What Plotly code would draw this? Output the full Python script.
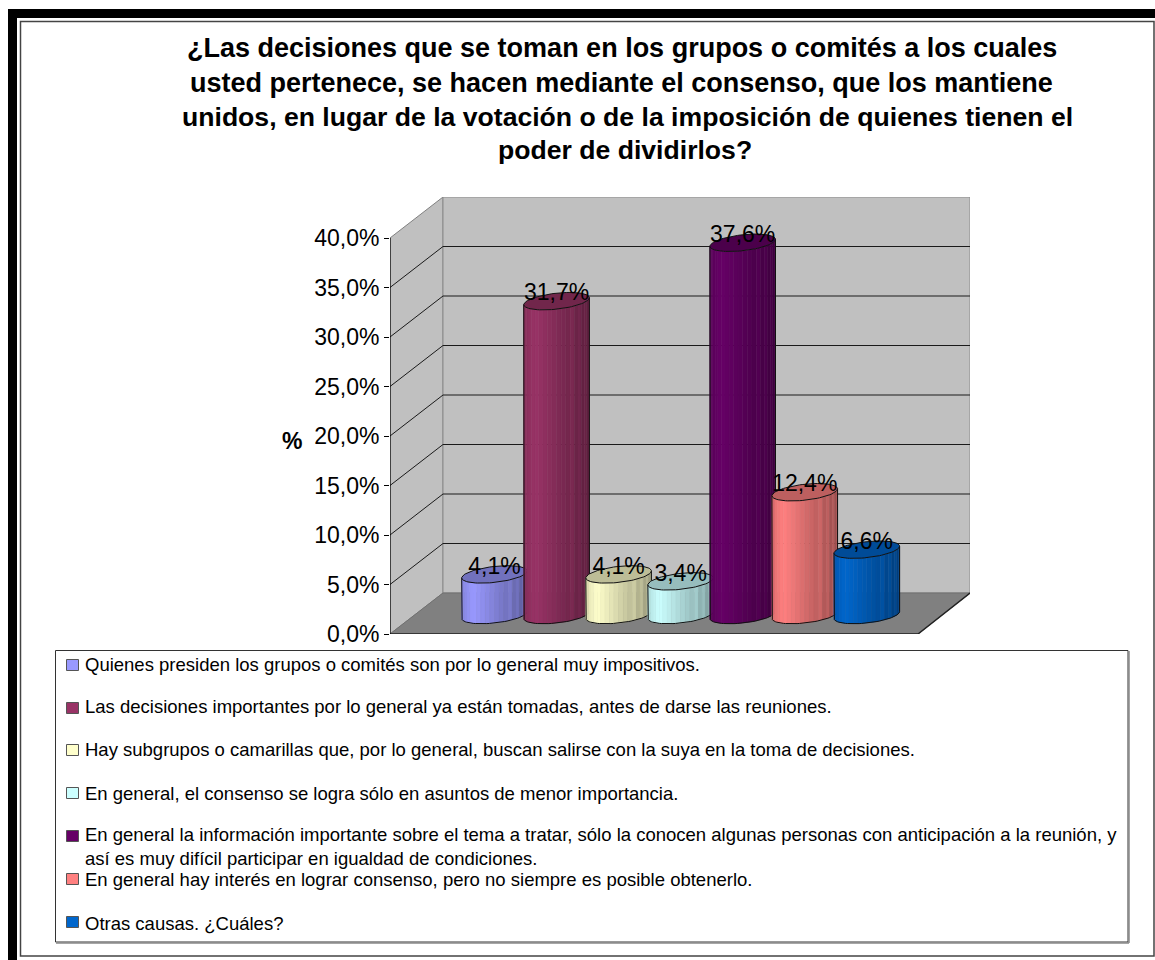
import math
import plotly.graph_objects as go

# Survey results
LEGEND_LABELS = [
    "Quienes presiden los grupos o comités son por lo general muy impositivos.",
    "Las decisiones importantes por lo general ya están tomadas, antes de darse las reuniones.",
    "Hay subgrupos o camarillas que, por lo general, buscan salirse con la suya en la toma de decisiones.",
    "En general, el consenso se logra sólo en asuntos de menor importancia.",
    "En general la información importante sobre el tema a tratar, sólo la conocen algunas personas con anticipación a la reunión, y<br>así es muy difícil participar en igualdad de condiciones.",
    "En general hay interés en lograr consenso, pero no siempre es posible obtenerlo.",
    "Otras causas. ¿Cuáles?",
]
VALUES = [4.1, 31.7, 4.1, 3.4, 37.6, 12.4, 6.6]
COLORS = ["#9999FF", "#993366", "#FFFFCC", "#CCFFFF", "#660066", "#FF8080", "#0066CC"]
TICKS = [0, 5, 10, 15, 20, 25, 30, 35, 40]
TICK_LABELS = ["0,0%", "5,0%", "10,0%", "15,0%", "20,0%", "25,0%", "30,0%", "35,0%", "40,0%"]
TITLE_LINES = [
    "¿Las decisiones que se toman en los grupos o comités a los cuales",
    "usted pertenece, se hacen mediante el consenso, que los mantiene",
    "unidos, en lugar de la votación o de la imposición de quienes tienen el",
    "poder de dividirlos?",
]

W, H = 1155, 960
FONT = "Liberation Sans"

# Plot box on the page, and the data scale inside it
BOX_L, BOX_R, BOX_T, BOX_B = 390, 970, 197, 634
PX_PER_PCT = 9.9
PX_PER_CAT = 62.05
CAT0_PX = 494.5

X_RANGE = [(BOX_L - CAT0_PX) / PX_PER_CAT, (BOX_R - CAT0_PX) / PX_PER_CAT]
Y_RANGE = [0, (BOX_B - BOX_T) / PX_PER_PCT]

# Oblique projection of the chart's depth, in axis units
DEPTH_X = 53 / PX_PER_CAT
DEPTH_Y = 41 / PX_PER_PCT
FLOOR_R = (918 - CAT0_PX) / PX_PER_CAT

# Cylinder shape, in axis units
RX = 32.8 / PX_PER_CAT
RY = 8 / PX_PER_PCT
SHEAR = 3.5 / PX_PER_PCT
BASE = 19 / PX_PER_PCT
N_FACETS = 22
LABEL_DROP = 5 / PX_PER_PCT


def fx(px):
    return px / W


def fy(py):
    return 1 - py / H


def shade(hex_color, f):
    r, g, b = (int(hex_color[i:i + 2], 16) for i in (1, 3, 5))
    return f"rgb({min(255, round(r * f))},{min(255, round(g * f))},{min(255, round(b * f))})"


def lower(cy, u):
    return cy + SHEAR * u - RY * math.sqrt(max(0, 1 - u * u))


def upper(cy, u):
    return cy + SHEAR * u + RY * math.sqrt(max(0, 1 - u * u))


def facet_factor(u, i):
    # Lit from the left: brightest a quarter of the way across, darkening to the right
    f = 1.0 - 0.13 * abs(u + 0.65) / 0.35 if u < -0.65 else 1.0 - 0.40 * (u + 0.65) / 1.65
    if u > 0.35 and i % 2 == 0:
        f += 0.07
    return f


shapes = []


def poly(points, fill=None, line=None, width=1, layer="below"):
    path = "M" + " L".join(f"{x},{y}" for x, y in points) + (" Z" if fill else "")
    shapes.append(dict(type="path", path=path, xref="x", yref="y", layer=layer,
                       fillcolor=fill or "rgba(0,0,0,0)",
                       line=dict(color=line or "rgba(0,0,0,0)", width=width)))


x0, x1 = X_RANGE
top = TICKS[-1]

# Side wall, back wall and floor
poly([(x0, 0), (x0 + DEPTH_X, DEPTH_Y), (x0 + DEPTH_X, top + DEPTH_Y), (x0, top)], "#C0C0C0", "#808080")
poly([(x0 + DEPTH_X, DEPTH_Y), (x1, DEPTH_Y), (x1, top + DEPTH_Y), (x0 + DEPTH_X, top + DEPTH_Y)], "#C0C0C0", "#8C8C8C")
poly([(x0, 0), (FLOOR_R, 0), (x1, DEPTH_Y), (x0 + DEPTH_X, DEPTH_Y)], "#808080", "#707070")

# Gridlines across both walls; the top of the walls keeps its grey edge
for t in TICKS[1:-1]:
    poly([(x0, t), (x0 + DEPTH_X, t + DEPTH_Y), (x1, t + DEPTH_Y)], None, "#1a1a1a", 1)

# Front edges of the floor and the value axis line
poly([(x0, 0), (FLOOR_R, 0), (x1, DEPTH_Y)], None, "#222222", 1.5)
poly([(x0, 0), (x0, top)], None, "#000000", 1.2)

fig = go.Figure()

# Each cylinder: shaded facets, then its outline and lid
for i, (v, color) in enumerate(zip(VALUES, COLORS)):
    bottom_c, top_c = BASE, BASE + v
    us = [-math.cos(math.pi * k / N_FACETS) for k in range(N_FACETS + 1)]
    for k in range(N_FACETS):
        a, b = us[k], us[k + 1]
        mid = (a + b) / 2
        steps = [a + (b - a) * s / 3 for s in range(4)]
        xs = [i + RX * u for u in steps] + [i + RX * u for u in reversed(steps)]
        ys = [lower(bottom_c, u) for u in steps] + [lower(top_c, u) for u in reversed(steps)]
        fc = shade(color, facet_factor(mid, k))
        fig.add_trace(go.Scatter(x=xs + xs[:1], y=ys + ys[:1], mode="lines", fill="toself",
                                 fillcolor=fc, line=dict(color=fc, width=0.5),
                                 hoverinfo="skip", showlegend=False))

    arc = [-math.cos(math.pi * k / 40) for k in range(41)]
    ox = [i - RX] + [i + RX * u for u in arc] + [i + RX]
    oy = [lower(top_c, -1)] + [lower(bottom_c, u) for u in arc] + [lower(top_c, 1)]
    fig.add_trace(go.Scatter(x=ox, y=oy, mode="lines", line=dict(color="#111111", width=1),
                             hoverinfo="skip", showlegend=False))

    lx = [i + RX * u for u in arc] + [i + RX * u for u in reversed(arc)] + [i - RX]
    ly = [lower(top_c, u) for u in arc] + [upper(top_c, u) for u in reversed(arc)] + [lower(top_c, -1)]
    fig.add_trace(go.Scatter(x=lx, y=ly, mode="lines", fill="toself", fillcolor=shade(color, 0.74),
                             line=dict(color="#111111", width=1), hoverinfo="skip", showlegend=False))

# Value labels sitting on the lids
fig.add_trace(go.Scatter(
    x=list(range(len(VALUES))),
    y=[BASE + v - LABEL_DROP for v in VALUES],
    mode="text",
    text=[f"{v:.1f}".replace(".", ",") + "%" for v in VALUES],
    textposition="top center",
    textfont=dict(family=FONT, size=23, color="#000000"),
    hoverinfo="skip", showlegend=False,
))

annotations = []

# Title, one annotation per line
TITLE_X = [622, 621, 627, 625]
TITLE_Y = [48, 83, 117, 150]
TITLE_SIZE = [27, 27, 26.6, 26.6]
for line, x, y, size in zip(TITLE_LINES, TITLE_X, TITLE_Y, TITLE_SIZE):
    annotations.append(dict(text=f"<b>{line}</b>", x=fx(x), y=fy(y), xref="paper", yref="paper",
                            xanchor="center", yanchor="middle", showarrow=False,
                            font=dict(family=FONT, size=size, color="#000000")))

annotations.append(dict(text="<b>%</b>", x=fx(292), y=fy(441), xref="paper", yref="paper",
                        xanchor="center", yanchor="middle", showarrow=False,
                        font=dict(family=FONT, size=23, color="#000000")))


def rect(l, t, r, b, fill=None, line=None, width=1, layer="above"):
    shapes.append(dict(type="rect", xref="paper", yref="paper", layer=layer,
                       x0=fx(l), x1=fx(r), y0=fy(b), y1=fy(t),
                       fillcolor=fill or "rgba(0,0,0,0)",
                       line=dict(color=line or "rgba(0,0,0,0)", width=width)))


# Page frame
rect(8, 9, 1155, 18, "#000000")
rect(8, 9, 17, 960, "#000000")
rect(20.5, 21.5, 1154, 956, None, "#444444", 1.5)

# Legend box, markers and entries
rect(55.5, 650.5, 1128, 942, None, "#333333", 1)
shapes.append(dict(type="line", xref="paper", yref="paper", x0=fx(56), x1=fx(1129), y0=fy(943), y1=fy(943),
                   line=dict(color="#888888", width=1.5)))
shapes.append(dict(type="line", xref="paper", yref="paper", x0=fx(1129), x1=fx(1129), y0=fy(943), y1=fy(651),
                   line=dict(color="#888888", width=1.5)))
LEGEND_Y = [664, 706, 749, 793, 846.5, 879, 923]
MARKER_Y = [665, 708, 750, 793, 836, 879, 922]
for label, color, y, my in zip(LEGEND_LABELS, COLORS, LEGEND_Y, MARKER_Y):
    rect(66.5, my - 5.5, 78.5, my + 5.5, color, "#555555", 1)
    annotations.append(dict(text=label, x=fx(83), y=fy(y), xref="paper", yref="paper",
                            xanchor="left", yanchor="middle", align="left", showarrow=False,
                            font=dict(family=FONT, size=18.5, color="#000000")))

fig.update_layout(
    width=W, height=H, autosize=False,
    margin=dict(l=0, r=0, t=0, b=0, autoexpand=False),
    paper_bgcolor="#FFFFFF", plot_bgcolor="rgba(0,0,0,0)",
    hovermode=False,
    shapes=shapes,
    annotations=annotations,
    xaxis=dict(domain=[fx(BOX_L), fx(BOX_R)], range=X_RANGE, visible=False, fixedrange=True),
    yaxis=dict(domain=[fy(BOX_B), fy(BOX_T)], range=Y_RANGE, fixedrange=True,
               tickmode="array", tickvals=TICKS, ticktext=TICK_LABELS,
               ticks="outside", ticklen=5, tickcolor="#000000", tickwidth=1,
               showgrid=False, zeroline=False, showline=False,
               tickfont=dict(family=FONT, size=23, color="#000000")),
)

fig.write_html("out.html")
